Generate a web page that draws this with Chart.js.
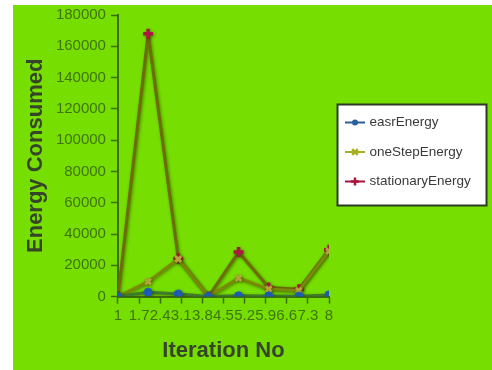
<!DOCTYPE html>
<html>
<head>
<meta charset="utf-8">
<script src="https://cdn.jsdelivr.net/npm/chart.js@4/dist/chart.umd.min.js"></script>
<style>
  html, body { margin: 0; padding: 0; background: #ffffff; }
  #wrap { width: 492px; height: 370px; position: relative; }
</style>
</head>
<body>
<div id="wrap"><canvas id="c" width="492" height="370"></canvas></div>
<script>
// Iteration numbers and energy per strategy
const iterations = [1, 2, 3, 4, 5, 6, 7, 8];
const easrEnergy = [0, 2800, 1700, 0, 500, 400, 300, 1100];
const oneStepEnergy = [0, 9600, 24000, 0, 11800, 4800, 3800, 29000];
const stationaryEnergy = [0, 168000, 24300, 0, 28500, 5800, 4700, 30000];

// Tick positions along the iteration axis
const xTickValues = [1, 1.7, 2.4, 3.1, 3.8, 4.5, 5.2, 5.9, 6.6, 7.3, 8];
const xTickLabels = ['1', '1.7', '2.4', '3.1', '3.8', '4.5', '5.2', '5.9', '6.6', '7.3', '8'];
const yTickValues = [0, 20000, 40000, 60000, 80000, 100000, 120000, 140000, 160000, 180000];

const seriesNames = ['easrEnergy', 'oneStepEnergy', 'stationaryEnergy'];

const toPoints = arr => arr.map((v, i) => ({ x: iterations[i], y: v }));

const AXIS_COLOR = '#3c6e08';
const TICK_COLOR = '#3f7410';
const TITLE_COLOR = '#36452a';
const FONT = '"Liberation Sans", Arial, sans-serif';

// Green panel behind the plot
const panelBg = {
  id: 'panelBg',
  beforeDraw(chart) {
    const ctx = chart.ctx;
    ctx.save();
    ctx.fillStyle = '#76de00';
    ctx.fillRect(13, 5, chart.width - 13, chart.height - 5);
    ctx.restore();
  }
};

// Soft shadow under the series lines
const lineShadow = {
  id: 'lineShadow',
  beforeDatasetDraw(chart) {
    const ctx = chart.ctx;
    ctx.save();
    ctx.shadowColor = 'rgba(40,60,0,0.55)';
    ctx.shadowBlur = 3;
    ctx.shadowOffsetX = 1;
    ctx.shadowOffsetY = 1;
  },
  afterDatasetDraw(chart) {
    chart.ctx.restore();
  }
};

// Boxed legend on the right
const boxLegend = {
  id: 'boxLegend',
  afterDraw(chart) {
    const ctx = chart.ctx;
    const x0 = 337.5, y0 = 104.5, w = 149, h = 101;
    ctx.save();
    ctx.fillStyle = '#ffffff';
    ctx.fillRect(x0, y0, w, h);
    ctx.strokeStyle = '#2c3a24';
    ctx.lineWidth = 2;
    ctx.strokeRect(x0, y0, w, h);
    ctx.font = '13.5px ' + FONT;
    ctx.textBaseline = 'middle';
    chart.data.datasets.forEach((ds, i) => {
      const y = 122.5 + i * 29.5;
      ctx.strokeStyle = ds.legendColor;
      ctx.lineWidth = 2;
      ctx.beginPath();
      ctx.moveTo(345, y);
      ctx.lineTo(365, y);
      ctx.stroke();
      ctx.fillStyle = ds.legendColor;
      ctx.strokeStyle = ds.legendColor;
      if (ds.pointStyle === 'circle') {
        ctx.beginPath();
        ctx.arc(355, y, 3, 0, Math.PI * 2);
        ctx.fill();
      } else {
        ctx.lineWidth = 2.5;
        Chart.helpers.drawPoint(ctx, { pointStyle: ds.pointStyle, rotation: 0, radius: 4, borderWidth: 2.5 }, 355, y);
      }
      ctx.fillStyle = '#3a3a3a';
      ctx.fillText(ds.label, 369.5, y);
    });
    ctx.restore();
  }
};

new Chart(document.getElementById('c'), {
  type: 'line',
  data: {
    datasets: [
      {
        label: seriesNames[0],
        data: toPoints(easrEnergy),
        borderColor: '#3d7a2a',
        borderWidth: 3,
        borderJoinStyle: 'round',
        borderCapStyle: 'round',
        pointStyle: 'circle',
        pointRadius: 4,
        pointBackgroundColor: '#1d5fc4',
        pointBorderColor: '#1d5fc4',
        pointBorderWidth: 1,
        legendColor: '#2a5f9e',
        tension: 0
      },
      {
        label: seriesNames[1],
        data: toPoints(oneStepEnergy),
        borderColor: '#7a8a08',
        borderWidth: 3,
        borderJoinStyle: 'round',
        borderCapStyle: 'round',
        pointStyle: 'crossRot',
        pointRadius: 4,
        pointBorderColor: '#b0a43a',
        pointBorderWidth: 3,
        legendColor: '#a6b11e',
        tension: 0
      },
      {
        label: seriesNames[2],
        data: toPoints(stationaryEnergy),
        borderColor: '#6d6c06',
        borderWidth: 3,
        borderJoinStyle: 'round',
        borderCapStyle: 'round',
        pointStyle: 'cross',
        pointRadius: 5,
        pointBorderColor: '#ad1741',
        pointBorderWidth: 3.5,
        legendColor: '#a8163c',
        tension: 0
      }
    ]
  },
  options: {
    responsive: false,
    animation: false,
    devicePixelRatio: 1,
    layout: { padding: { left: 23, top: 15, right: 163, bottom: 6 } },
    plugins: {
      legend: { display: false },
      tooltip: { enabled: false }
    },
    scales: {
      x: {
        type: 'linear',
        min: 1,
        max: 8,
        afterBuildTicks(scale) {
          scale.ticks = xTickValues.map(v => ({ value: v }));
        },
        grid: {
          display: true,
          drawOnChartArea: false,
          drawTicks: true,
          tickLength: 7,
          tickWidth: 1.5,
          tickColor: AXIS_COLOR
        },
        border: { display: true, color: AXIS_COLOR, width: 2 },
        ticks: {
          autoSkip: false,
          maxRotation: 0,
          minRotation: 0,
          padding: 3,
          color: TICK_COLOR,
          font: { family: FONT, size: 15 },
          callback: (v) => {
            const i = xTickValues.findIndex(t => Math.abs(t - v) < 1e-9);
            return i >= 0 ? xTickLabels[i] : '';
          }
        },
        title: {
          display: true,
          text: 'Iteration No',
          color: TITLE_COLOR,
          padding: { top: 10, bottom: 0 },
          font: { family: FONT, size: 22, weight: 'bold' }
        }
      },
      y: {
        min: 0,
        max: 180000,
        afterBuildTicks(scale) {
          scale.ticks = yTickValues.map(v => ({ value: v }));
        },
        grid: {
          display: true,
          drawOnChartArea: false,
          drawTicks: true,
          tickLength: 7,
          tickWidth: 1.5,
          tickColor: AXIS_COLOR
        },
        border: { display: true, color: AXIS_COLOR, width: 2 },
        ticks: {
          padding: 5,
          color: TICK_COLOR,
          font: { family: FONT, size: 15 },
          callback: (v) => String(v)
        },
        title: {
          display: true,
          text: 'Energy Consumed',
          color: TITLE_COLOR,
          padding: { top: 0, bottom: 1.5 },
          font: { family: FONT, size: 22, weight: 'bold' }
        }
      }
    }
  },
  plugins: [panelBg, lineShadow, boxLegend]
});
</script>
</body>
</html>
